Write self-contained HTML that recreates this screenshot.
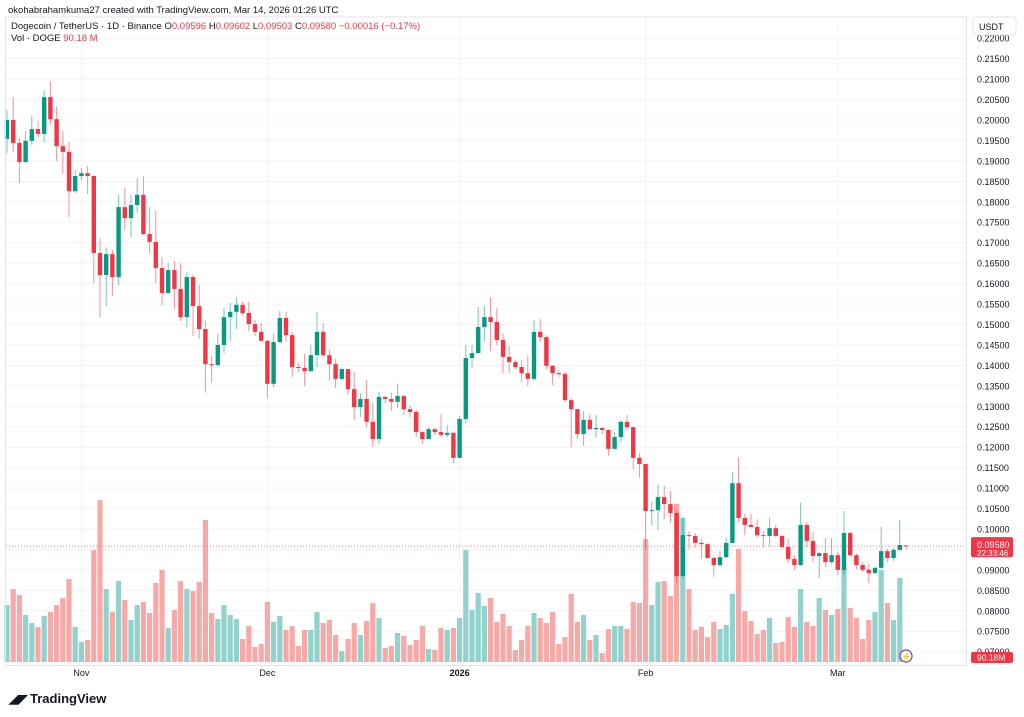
<!DOCTYPE html>
<html><head><meta charset="utf-8">
<style>
body{margin:0;background:#fff;width:1024px;height:717px;overflow:hidden;font-family:"Liberation Sans",sans-serif;}
svg{position:absolute;left:0;top:0}
</style></head>
<body>
<svg id="chart" width="1024" height="717" viewBox="0 0 1024 717">
<rect x="0" y="0" width="1024" height="717" fill="#fff"/>
<g id="grid"></g>
<g id="vol"></g>
<g id="candles"></g>
<g id="yaxis"></g>
<g id="xaxis"></g>
<text x="8" y="13" font-size="9.5" fill="#131722">okohabrahamkuma27 created with TradingView.com, Mar 14, 2026 01:26 UTC</text>
<line x1="5" y1="17" x2="966" y2="17" stroke="#e0e3eb" stroke-width="1"/>
<line x1="5.5" y1="17" x2="5.5" y2="665" stroke="#e0e3eb" stroke-width="1"/>
<text x="11" y="29" font-size="9.5" fill="#131722">Dogecoin / TetherUS · 1D · Binance  <tspan>O</tspan><tspan fill="#f23645">0.09596</tspan>  H<tspan fill="#f23645">0.09602</tspan>  L<tspan fill="#f23645">0.09503</tspan>  C<tspan fill="#f23645">0.09580</tspan>  <tspan fill="#f23645">−0.00016 (−0.17%)</tspan></text>
<text x="11" y="41" font-size="9.5" fill="#131722">Vol · DOGE  <tspan fill="#f23645">90.18 M</tspan></text>
<rect x="973" y="17" width="43" height="18" rx="3" fill="#fff" stroke="#e0e3eb"/>
<text x="979" y="30" font-size="9" fill="#131722">USDT</text>
<g>
<text x="9" y="703" font-size="12" font-weight="bold" fill="#131722">◢◤</text>
<text x="30" y="703" font-size="13" font-weight="bold" fill="#131722">TradingView</text>
</g>
<g>
<circle cx="906" cy="656" r="6" fill="#fff" stroke="#9c27b0" stroke-width="1.2"/>
<text x="906" y="659.5" font-size="8" fill="#9c27b0" text-anchor="middle">⚡</text>
</g>
</svg>
<script>
const closes=[0.2000,0.1944,0.1897,0.1949,0.1978,0.1966,0.2056,0.2002,0.1936,0.1922,0.1826,0.1863,0.1870,0.1863,0.1675,0.1621,0.1672,0.1616,0.1787,0.1760,0.1792,0.1817,0.1721,0.1702,0.1638,0.1577,0.1633,0.1587,0.1518,0.1616,0.1545,0.1489,0.1403,0.1401,0.1450,0.1518,0.1531,0.1548,
0.1528,0.1501,0.1482,0.1460,0.1355,0.1457,0.1516,0.1474,0.1396,0.1394,0.1386,0.1425,0.1482,0.1425,0.1403,0.1367,0.1391,0.1342,0.1298,0.1318,0.1262,0.1220,0.1323,0.1318,0.1311,0.1325,0.1293,0.1286,0.1237,0.1220,0.1244,0.1237,0.1230,0.1235,0.1174,0.1269,0.1418,
0.1430,0.1494,0.1518,0.1506,0.1462,0.1421,0.1408,0.1396,0.1381,0.1367,0.1482,0.1469,0.1399,0.1381,0.1379,0.1315,0.1293,0.1232,0.1267,0.1244,0.1247,0.1242,0.1196,0.1225,0.1262,0.1249,0.1174,0.1159,0.1044,0.1046,0.1078,0.1061,0.1039,0.0885,0.0985,0.0983,0.0966,
0.0963,0.0929,0.0912,0.0931,0.0966,0.1112,0.1027,0.1010,0.1005,0.0985,0.0983,0.1002,0.0983,0.0956,0.0927,0.0912,0.1010,0.0971,0.0934,0.0941,0.0919,0.0936,0.0900,0.0990,0.0936,0.0912,0.0900,0.0892,0.0905,0.0946,0.0929,0.0949,0.0961,0.0958];
const opens=[0.1954,0.2000,0.1944,0.1897,0.1949,0.1978,0.1966,0.2056,0.2002,0.1936,0.1922,0.1826,0.1863,0.1870,0.1863,0.1675,0.1621,0.1672,0.1616,0.1787,0.1760,0.1792,0.1817,0.1721,0.1702,0.1638,0.1577,0.1633,0.1587,0.1518,0.1616,0.1545,0.1489,0.1403,0.1401,0.1450,0.1518,0.1531,
0.1548,0.1528,0.1501,0.1482,0.1460,0.1355,0.1457,0.1516,0.1474,0.1396,0.1394,0.1386,0.1425,0.1482,0.1425,0.1403,0.1367,0.1391,0.1342,0.1298,0.1318,0.1262,0.1220,0.1323,0.1318,0.1311,0.1325,0.1293,0.1286,0.1237,0.1220,0.1244,0.1237,0.1230,0.1235,0.1174,0.1269,
0.1418,0.1430,0.1494,0.1518,0.1506,0.1462,0.1421,0.1408,0.1396,0.1381,0.1367,0.1482,0.1469,0.1399,0.1381,0.1379,0.1315,0.1293,0.1232,0.1267,0.1244,0.1247,0.1242,0.1196,0.1225,0.1262,0.1249,0.1174,0.1159,0.1044,0.1046,0.1078,0.1061,0.1039,0.0885,0.0985,0.0983,
0.0966,0.0963,0.0929,0.0912,0.0931,0.0966,0.1112,0.1027,0.1010,0.1005,0.0985,0.0983,0.1002,0.0983,0.0956,0.0927,0.0912,0.1010,0.0971,0.0934,0.0941,0.0919,0.0936,0.0900,0.0990,0.0936,0.0912,0.0900,0.0892,0.0905,0.0946,0.0929,0.0949,0.0960];
const highs=[0.2024,0.2056,0.1956,0.1973,0.2010,0.1998,0.2073,0.2095,0.2032,0.1973,0.1946,0.1878,0.1883,0.1888,0.1863,0.1711,0.1689,0.1682,0.1817,0.1834,0.1817,0.1858,0.1863,0.1787,0.1777,0.1663,0.1650,0.1655,0.1650,0.1628,0.1623,0.1597,0.1509,0.1423,0.1477,0.1540,0.1553,0.1567,
0.1555,0.1555,0.1511,0.1504,0.1462,0.1479,0.1533,0.1531,0.1482,0.1406,0.1428,0.1450,0.1531,0.1504,0.1438,0.1416,0.1394,0.1391,0.1384,0.1333,0.1364,0.1308,0.1335,0.1325,0.1333,0.1355,0.1328,0.1303,0.1291,0.1240,0.1249,0.1247,0.1281,0.1254,0.1237,0.1276,0.1450,
0.1450,0.1543,0.1545,0.1567,0.1540,0.1479,0.1447,0.1413,0.1413,0.1425,0.1511,0.1513,0.1474,0.1401,0.1389,0.1384,0.1320,0.1291,0.1288,0.1281,0.1279,0.1249,0.1244,0.1237,0.1266,0.1279,0.1249,0.1186,0.1159,0.1068,0.1108,0.1105,0.1093,0.1046,0.1029,0.0995,0.0990,
0.0976,0.0966,0.0932,0.0946,0.0978,0.1139,0.1176,0.1037,0.1037,0.1024,0.0995,0.1027,0.1010,0.0985,0.0976,0.0936,0.1064,0.1017,0.0993,0.0944,0.0978,0.0978,0.0944,0.1044,0.0993,0.0941,0.0919,0.0914,0.0907,0.1005,0.0951,0.0954,0.1022,0.0960];
const lows=[0.1919,0.1922,0.1846,0.1897,0.1939,0.1958,0.1946,0.1988,0.1900,0.1870,0.1763,0.1821,0.1853,0.1819,0.1601,0.1518,0.1545,0.1570,0.1597,0.1731,0.1714,0.1773,0.1719,0.1675,0.1601,0.1548,0.1575,0.1538,0.1509,0.1494,0.1472,0.1465,0.1333,0.1357,0.1396,0.1430,0.1460,0.1489,
0.1523,0.1484,0.1472,0.1460,0.1320,0.1347,0.1455,0.1457,0.1372,0.1384,0.1350,0.1384,0.1396,0.1421,0.1364,0.1345,0.1364,0.1328,0.1266,0.1274,0.1249,0.1200,0.1208,0.1308,0.1289,0.1296,0.1279,0.1274,0.1225,0.1208,0.1220,0.1230,0.1225,0.1225,0.1161,0.1174,0.1259,
0.1394,0.1430,0.1460,0.1435,0.1450,0.1381,0.1381,0.1391,0.1359,0.1350,0.1364,0.1457,0.1391,0.1352,0.1372,0.1311,0.1200,0.1220,0.1203,0.1244,0.1222,0.1232,0.1179,0.1196,0.1213,0.1242,0.1147,0.1125,0.0949,0.1010,0.0998,0.1024,0.1015,0.0868,0.0880,0.0951,0.0954,
0.0927,0.0927,0.0883,0.0907,0.0929,0.0966,0.1017,0.0985,0.1005,0.0980,0.0956,0.0958,0.0980,0.0954,0.0917,0.0900,0.0910,0.0956,0.0919,0.0880,0.0907,0.0914,0.0888,0.0888,0.0932,0.0902,0.0895,0.0868,0.0892,0.0902,0.0919,0.0922,0.0946,0.0950];
const volumes=[1026,1314,1206,846,702,630,828,900,1026,1152,1494,630,360,396,2016,2916,1314,900,1458,1116,756,1026,1080,882,1422,1656,612,936,1458,1314,1278,1440,2556,882,774,1026,846,774,
414,648,270,324,1080,720,828,576,648,288,576,576,900,702,756,486,198,414,702,486,738,1062,792,252,288,522,468,306,396,648,234,216,612,576,612,792,2016,
936,1242,1008,1152,720,864,648,216,396,648,882,792,702,900,324,450,1224,720,846,396,486,162,594,648,648,594,1080,1062,2214,1026,1440,1458,1188,2844,2592,1314,576,
630,450,720,594,666,1224,2034,918,738,504,576,792,342,360,810,630,1314,720,648,1152,936,846,954,1692,972,792,414,756,900,1656,1062,756,1512,90];
const priceTicks=[0.07,0.075,0.08,0.085,0.09,0.095,0.10,0.105,0.11,0.115,0.12,0.125,0.13,0.135,0.14,0.145,0.15,0.155,0.16,0.165,0.17,0.175,0.18,0.185,0.19,0.195,0.20,0.205,0.21,0.215,0.22];
const timeTickIdx=[12,42,73,103,134];
const timeTickLabels=["Nov","Dec","2026","Feb","Mar"];
const lastPrice=0.09580;

const NS="http://www.w3.org/2000/svg";
function el(tag,attrs,parent){const e=document.createElementNS(NS,tag);for(const k in attrs)e.setAttribute(k,attrs[k]);parent.appendChild(e);return e;}
const yP=p=>(0.22934-p)/0.0002445;
const xI=i=>7+i*6.2;
const volBase=662, yV=v=>volBase-v/18;
const G=document.getElementById('grid'),V=document.getElementById('vol'),C=document.getElementById('candles'),YA=document.getElementById('yaxis'),XA=document.getElementById('xaxis');

priceTicks.forEach(p=>{
  const y=yP(p);
  const l=el('line',{x1:6,x2:966,y1:y,y2:y,stroke:'#f2f3f6','stroke-width':1},G);
  
  
  const t=el('text',{x:977,y:y+3.5,'font-size':9,fill:'#131722'},YA);
  
  
  t.textContent=p.toFixed(5);
});
timeTickIdx.forEach((idx,k)=>{
  const x=xI(idx);
  const l=el('line',{x1:x,x2:x,y1:17,y2:665,stroke:'#f2f3f6','stroke-width':1},G);
  
  
  const t=el('text',{x:x,y:676,'font-size':9,fill:'#131722','text-anchor':'middle','font-weight':timeTickLabels[k]==="2026"?'bold':'normal'},XA);
  
  
  t.textContent=timeTickLabels[k];
});
el('line',{x1:5,x2:966,y1:665.5,y2:665.5,stroke:'#e0e3eb'},XA);
el('line',{x1:966.5,x2:966.5,y1:17,y2:665,stroke:'#e0e3eb'},YA);

volumes.forEach((v,i)=>{
  const up=closes[i]>=opens[i];
  const r=el('rect',{x:xI(i)-2.6,y:yV(v),width:5.2,height:volBase-yV(v),fill:up?'#92d2cc':'#f7a9a7'},V);
  
  
});
closes.forEach((c,i)=>{
  const o=opens[i],up=c>=o,col=up?'#089981':'#f23645';
  const x=xI(i);
  const top=yP(Math.max(o,c)),bot=yP(Math.min(o,c));
  const g=el('g',{},C);
  
  
  el('line',{x1:x,x2:x,y1:Math.min(yP(highs[i]),top),y2:Math.max(yP(lows[i]),bot),stroke:col,'stroke-width':1,'stroke-opacity':0.55},g);
  el('rect',{x:x-2.2,y:top,width:4.4,height:Math.max(bot-top,1),fill:col},g);
});
// last price line and labels
const ly=yP(lastPrice);
const pl=el('line',{x1:6,x2:966,y1:ly,y2:ly,stroke:'#f23645','stroke-width':1,'stroke-dasharray':'1 2','stroke-opacity':0.6},C);


const pb=el('rect',{x:971,y:ly-9,width:42,height:20,rx:2,fill:'#f23645'},YA);


const pt=el('text',{x:977,y:ly+2,'font-size':9,fill:'#fff'},YA);pt.textContent=lastPrice.toFixed(5);
const ct=el('text',{x:977,y:ly+10,'font-size':8,fill:'#fff'},YA);ct.textContent="22:33:46";
const vb=el('rect',{x:971,y:652,width:42,height:11,rx:2,fill:'#f23645'},YA);


const vt=el('text',{x:977,y:660.5,'font-size':8.5,fill:'#fff'},YA);vt.textContent="90.18M";
</script>
</body></html>
